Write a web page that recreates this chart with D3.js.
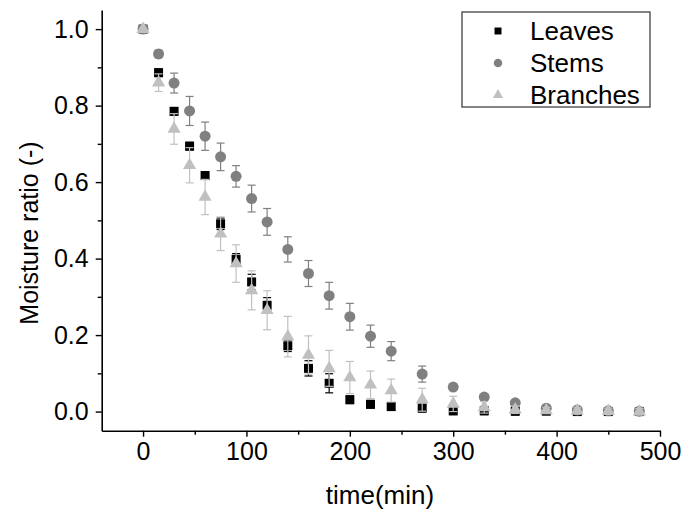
<!DOCTYPE html>
<html>
<head>
<meta charset="utf-8">
<script src="https://cdn.jsdelivr.net/npm/d3@7"></script>
<style>
  html, body { margin: 0; padding: 0; background: #fff; }
  svg { display: block; }
  text { font-family: Arial, "Liberation Sans", sans-serif; }
</style>
</head>
<body>
<svg id="chart" width="687" height="514"></svg>
<script>
// ---- data ----
const times = [0, 15, 30, 45, 60, 75, 90, 105, 120, 140, 160, 180, 200, 220, 240, 270, 300, 330, 360, 390, 420, 450, 480];
const leaves = [1.0, 0.886, 0.785, 0.694, 0.617, 0.491, 0.398, 0.339, 0.278, 0.172, 0.113, 0.074, 0.031, 0.019, 0.013, 0.009, 0.002, 0.002, 0.001, 0.001, 0.0, 0.0, 0.0];
const leavesErr = [0, 0.01, 0.01, 0.01, 0.01, 0.015, 0.015, 0.02, 0.02, 0.015, 0.02, 0.025, 0.01, 0.01, 0.01, 0.01, 0.01, 0.01, 0.01, 0.005, 0.005, 0.005, 0.005];
const stems = [1.0, 0.935, 0.859, 0.786, 0.720, 0.666, 0.615, 0.557, 0.496, 0.424, 0.361, 0.303, 0.248, 0.197, 0.158, 0.098, 0.064, 0.038, 0.023, 0.009, 0.004, 0.002, 0.001];
const stemsErr = [0, 0.01, 0.026, 0.038, 0.037, 0.036, 0.028, 0.035, 0.035, 0.033, 0.034, 0.035, 0.035, 0.029, 0.025, 0.021, 0.005, 0.005, 0.005, 0.005, 0.005, 0.005, 0.005];
const branches = [1.0, 0.860, 0.739, 0.644, 0.561, 0.465, 0.387, 0.317, 0.265, 0.196, 0.148, 0.113, 0.089, 0.070, 0.055, 0.031, 0.020, 0.011, 0.005, 0.003, 0.002, 0.001, 0.0];
const branchesErr = [0, 0.023, 0.04, 0.046, 0.046, 0.044, 0.049, 0.051, 0.051, 0.053, 0.05, 0.047, 0.042, 0.036, 0.03, 0.03, 0.02, 0.015, 0.01, 0.008, 0.008, 0.008, 0.008];
const seriesNames = ["Leaves", "Stems", "Branches"];
const xTicks = [0, 100, 200, 300, 400, 500];
const xMinorTicks = [50, 150, 250, 350, 450];
const yTicks = [0.0, 0.2, 0.4, 0.6, 0.8, 1.0];
const yMinorTicks = [0.1, 0.3, 0.5, 0.7, 0.9];
const xTitle = "time(min)";
const yTitle = "Moisture ratio (-)";

// ---- setup ----
const svg = d3.select("#chart");
const x = d3.scaleLinear().domain([-40, 500]).range([101.7, 660]);
const y = d3.scaleLinear().domain([-0.05, 1.05]).range([430.7, 10]);

const styles = {
  Leaves: { color: "#000000", shape: d3.symbolSquare, size: 81 },
  Stems: { color: "#808080", shape: d3.symbolCircle, size: 95 },
  Branches: { color: "#c0c0c0", shape: d3.symbolTriangle, size: 75 }
};
const seriesData = [
  { name: "Leaves", vals: leaves, errs: leavesErr },
  { name: "Stems", vals: stems, errs: stemsErr },
  { name: "Branches", vals: branches, errs: branchesErr }
];

// ---- axes ----
const fontSize = 25;
svg.append("g").attr("transform", `translate(0,${y.range()[0]})`)
  .call(d3.axisBottom(x).tickValues(xTicks).tickFormat(d3.format("d")).tickSize(6).tickSizeOuter(0).tickPadding(6));
svg.append("g").attr("transform", `translate(0,${y.range()[0]})`)
  .call(d3.axisBottom(x).tickValues(xMinorTicks).tickFormat("").tickSize(4).tickSizeOuter(0))
  .call(g => g.select(".domain").remove());
svg.append("g").attr("transform", `translate(${x.range()[0]},0)`)
  .call(d3.axisLeft(y).tickValues(yTicks).tickFormat(d3.format(".1f")).tickSize(6).tickSizeOuter(0).tickPadding(7));
svg.append("g").attr("transform", `translate(${x.range()[0]},0)`)
  .call(d3.axisLeft(y).tickValues(yMinorTicks).tickFormat("").tickSize(4).tickSizeOuter(0))
  .call(g => g.select(".domain").remove());

svg.selectAll(".domain").attr("stroke", "#000").attr("stroke-width", 1.6);
svg.selectAll(".tick line").attr("stroke", "#000").attr("stroke-width", 1.4);
svg.selectAll(".tick text").attr("font-size", fontSize).attr("fill", "#000")
  .attr("font-family", "Arial, 'Liberation Sans', sans-serif");

svg.append("text").attr("x", 380).attr("y", 504).attr("text-anchor", "middle")
  .attr("font-size", 26).text(xTitle);
svg.append("text").attr("transform", `translate(38,233) rotate(-90)`).attr("text-anchor", "middle")
  .attr("font-size", 25).text(yTitle);

// ---- series ----
const capW = 4;
seriesData.forEach(s => {
  const st = styles[s.name];
  const g = svg.append("g");
  const pts = times.map((t, i) => ({ t, v: s.vals[i], e: s.errs[i] }));
  const eb = g.selectAll("g.eb").data(pts.filter(p => p.e > 0)).join("g").attr("class", "eb")
    .attr("stroke", st.color).attr("stroke-width", 1.2);
  eb.append("line").attr("x1", p => x(p.t)).attr("x2", p => x(p.t))
    .attr("y1", p => y(p.v + p.e)).attr("y2", p => y(p.v - p.e));
  eb.append("line").attr("x1", p => x(p.t) - capW).attr("x2", p => x(p.t) + capW)
    .attr("y1", p => y(p.v + p.e)).attr("y2", p => y(p.v + p.e));
  eb.append("line").attr("x1", p => x(p.t) - capW).attr("x2", p => x(p.t) + capW)
    .attr("y1", p => y(p.v - p.e)).attr("y2", p => y(p.v - p.e));
  g.selectAll("path.m").data(pts).join("path").attr("class", "m")
    .attr("d", d3.symbol().type(st.shape).size(st.size))
    .attr("transform", p => `translate(${x(p.t)},${y(p.v)})`)
    .attr("fill", st.color);
});

// ---- legend ----
const lg = svg.append("g");
lg.append("rect").attr("x", 462).attr("y", 12).attr("width", 188).attr("height", 95)
  .attr("fill", "#fff").attr("stroke", "#333").attr("stroke-width", 1.2);
const rowY = d3.scalePoint().domain(seriesNames).range([31, 95]);
seriesNames.forEach(n => {
  const st = styles[n];
  lg.append("path").attr("d", d3.symbol().type(st.shape).size(st.size * 0.6))
    .attr("transform", `translate(498,${rowY(n)})`).attr("fill", st.color);
  lg.append("text").attr("x", 530).attr("y", rowY(n)).attr("dy", "0.35em")
    .attr("font-size", 26).text(n);
});
</script>
</body>
</html>
